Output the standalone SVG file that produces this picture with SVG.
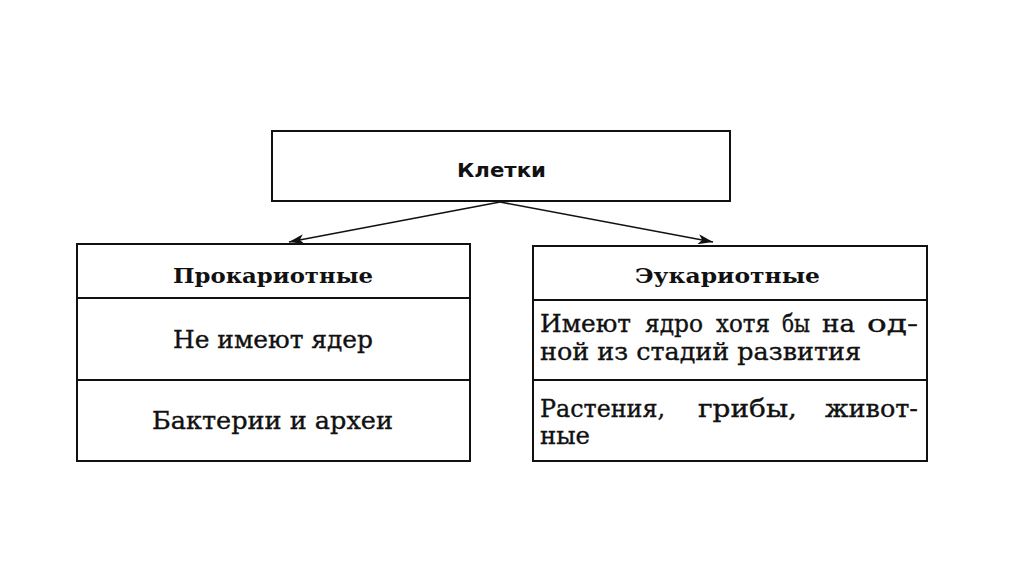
<svg xmlns="http://www.w3.org/2000/svg" width="1024" height="574" viewBox="0 0 1024 574">
<style>
.box{fill:#fff;stroke:#111;stroke-width:2}
.div{stroke:#111;stroke-width:1.8}
.sans{font-family:"DejaVu Sans","Liberation Sans",sans-serif;font-weight:bold;font-size:19px;fill:#111}
.hdr{font-family:"DejaVu Serif","Liberation Serif",serif;font-weight:bold;font-size:21px;fill:#111}
.txt{font-family:"DejaVu Serif","Liberation Serif",serif;font-size:24px;fill:#111;stroke:#111;stroke-width:0.35}
.conn{stroke:#111;stroke-width:1.6;fill:none}
</style>
<defs>
<marker id="ah" viewBox="0 0 15 10" refX="15" refY="5" markerWidth="15" markerHeight="10" markerUnits="userSpaceOnUse" orient="auto">
<path d="M0,0 L15,5 L0,10 L4,5 Z" fill="#111"/>
</marker>
</defs>
<rect width="1024" height="574" fill="#fff"/>
<g id="connectors">
<line class="conn" x1="500" y1="202" x2="289" y2="242" marker-end="url(#ah)"/>
<line class="conn" x1="500" y1="202" x2="713" y2="242" marker-end="url(#ah)"/>
</g>
<g id="cells">
<rect class="box" x="272" y="131" width="458" height="70"/>
<text class="sans" x="457" y="177" textLength="89" lengthAdjust="spacingAndGlyphs">Клетки</text>
</g>
<g id="prokaryotes">
<rect class="box" x="77" y="244" width="393" height="217"/>
<line class="div" x1="77" y1="298" x2="470" y2="298"/>
<line class="div" x1="77" y1="380" x2="470" y2="380"/>
<text class="hdr" x="173" y="283" textLength="200" lengthAdjust="spacingAndGlyphs">Прокариотные</text>
<text class="txt" x="173" y="348" textLength="200" lengthAdjust="spacingAndGlyphs">Не имеют ядер</text>
<text class="txt" x="152" y="429" textLength="241" lengthAdjust="spacingAndGlyphs">Бактерии и археи</text>
</g>
<g id="eukaryotes">
<rect class="box" x="533" y="246" width="394" height="215"/>
<line class="div" x1="533" y1="300" x2="927" y2="300"/>
<line class="div" x1="533" y1="380" x2="927" y2="380"/>
<text class="hdr" x="635" y="283" textLength="185" lengthAdjust="spacingAndGlyphs">Эукариотные</text>
<text class="txt" y="332"><tspan x="540" textLength="91" lengthAdjust="spacingAndGlyphs">Имеют</tspan><tspan x="645" textLength="58" lengthAdjust="spacingAndGlyphs">ядро</tspan><tspan x="716" textLength="54" lengthAdjust="spacingAndGlyphs">хотя</tspan><tspan x="782" textLength="28" lengthAdjust="spacingAndGlyphs">бы</tspan><tspan x="822" textLength="33" lengthAdjust="spacingAndGlyphs">на</tspan><tspan x="867" textLength="51" lengthAdjust="spacingAndGlyphs">од-</tspan></text>
<text class="txt" x="540" y="360" textLength="321" lengthAdjust="spacingAndGlyphs">ной из стадий развития</text>
<text class="txt" y="417"><tspan x="540" textLength="125" lengthAdjust="spacingAndGlyphs">Растения,</tspan><tspan x="698" textLength="99" lengthAdjust="spacingAndGlyphs">грибы,</tspan><tspan x="825" textLength="93" lengthAdjust="spacingAndGlyphs">живот-</tspan></text>
<text class="txt" x="540" y="444" textLength="50" lengthAdjust="spacingAndGlyphs">ные</text>
</g>
</svg>
